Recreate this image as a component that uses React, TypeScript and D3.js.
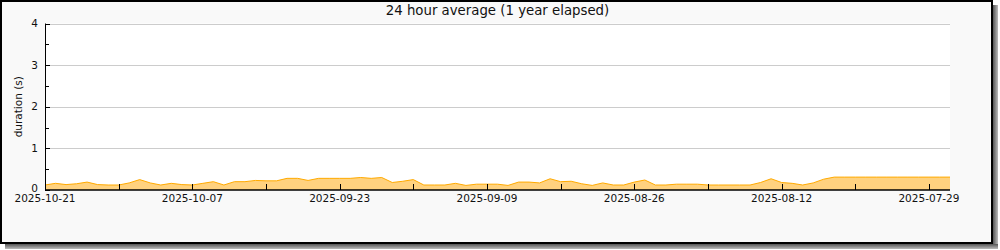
import React from "react";
import * as d3 from "d3";

const TITLE = "24 hour average (1 year elapsed)";
const Y_LABEL = "duration (s)";
const START_DATE = "2025-10-21";
const END_DATE = "2025-07-27";
// daily values, newest (2025-10-21) first, going back in time
const durations: number[] = [
  0.12, 0.16, 0.13, 0.15, 0.19, 0.13, 0.12, 0.12, 0.17, 0.25,
  0.17, 0.12, 0.16, 0.13, 0.12, 0.16, 0.2, 0.12, 0.2, 0.2,
  0.23, 0.22, 0.22, 0.28, 0.28, 0.23, 0.28, 0.28, 0.28, 0.28,
  0.3, 0.28, 0.3, 0.18, 0.21, 0.25, 0.12, 0.12, 0.12, 0.16,
  0.11, 0.14, 0.14, 0.14, 0.11, 0.19, 0.19, 0.17, 0.27, 0.2,
  0.21, 0.15, 0.11, 0.17, 0.12, 0.12, 0.19, 0.24, 0.12, 0.12,
  0.14, 0.14, 0.14, 0.12, 0.12, 0.12, 0.12, 0.12, 0.18, 0.27,
  0.18, 0.16, 0.12, 0.17, 0.26, 0.31, 0.31, 0.31, 0.31, 0.31,
  0.31, 0.31, 0.31, 0.31, 0.31, 0.31, 0.31,
];
const yTicks = [0, 1, 2, 3, 4];
const yMinorTicks = [0.5, 1.5, 2.5, 3.5];

const parse = d3.utcParse("%Y-%m-%d");
const fmt = d3.utcFormat("%Y-%m-%d");

export default function App() {
  const W = 1000, H = 250;
  const left = 45, right = 950, top = 23.5, bottom = 190;
  const start = parse(START_DATE)!;
  const end = parse(END_DATE)!;
  const x = d3.scaleUtc().domain([start, end]).range([left, right]);
  const y = d3.scaleLinear().domain([0, 4]).range([bottom, top]);

  const data = durations.map((v, i) => ({ date: d3.utcDay.offset(start, -i), v }));
  const area = d3
    .area<{ date: Date; v: number }>()
    .x((d) => x(d.date))
    .y0(y(0))
    .y1((d) => y(d.v));
  const line = d3
    .line<{ date: Date; v: number }>()
    .x((d) => x(d.date))
    .y((d) => y(d.v));

  const weekTicks: Date[] = [];
  for (let d = start; d >= end; d = d3.utcDay.offset(d, -7)) weekTicks.push(d);

  const font = "'DejaVu Sans', sans-serif";

  return (
    <svg
      width={W}
      height={H}
      style={{ position: "absolute", left: 0, top: 0, display: "block" }}
      fontFamily={font}
    >
      <defs>
        <linearGradient id="shadowR" x1="0" x2="1" y1="0" y2="0">
          <stop offset="0" stopColor="#555" />
          <stop offset="1" stopColor="#bbb" />
        </linearGradient>
        <linearGradient id="shadowB" x1="0" x2="0" y1="0" y2="1">
          <stop offset="0" stopColor="#555" />
          <stop offset="1" stopColor="#bbb" />
        </linearGradient>
      </defs>
      <rect x={0} y={0} width={W} height={H} fill="#ffffff" />
      <rect x={993} y={5} width={5} height={244} fill="url(#shadowR)" />
      <rect x={5} y={244} width={993} height={5} fill="url(#shadowB)" />
      <rect x={1} y={1} width={991} height={242} fill="#f9f9f9" stroke="#000" strokeWidth={2} />
      <rect x={left} y={top} width={right - left} height={bottom - top} fill="#ffffff" />

      {yTicks.filter((t) => t > 0).map((t) => (
        <line key={"g" + t} x1={left} x2={right} y1={Math.round(y(t)) + 0.5} y2={Math.round(y(t)) + 0.5} stroke="#cccccc" strokeWidth={1} />
      ))}

      <path d={area(data)!} fill="#ffd27f" stroke="none" />
      <path d={line(data)!} fill="none" stroke="#ffaa00" strokeWidth={1} />

      <line x1={left + 0.5} x2={left + 0.5} y1={top} y2={bottom} stroke="#000" strokeWidth={1} />
      <line x1={left} x2={right} y1={bottom} y2={bottom} stroke="#000" strokeWidth={1.5} />

      {yTicks.map((t) => (
        <g key={"yt" + t}>
          <line x1={left} x2={left + 5} y1={Math.round(y(t)) + 0.5} y2={Math.round(y(t)) + 0.5} stroke="#000" />
          <text x={38} y={t === 0 ? y(t) - 1.5 : y(t)} dy="0.35em" textAnchor="end" fontSize={10.5} fill="#111">
            {t}
          </text>
        </g>
      ))}
      {yMinorTicks.map((t) => (
        <line key={"ym" + t} x1={left} x2={left + 4} y1={Math.round(y(t)) + 0.5} y2={Math.round(y(t)) + 0.5} stroke="#000" />
      ))}

      {weekTicks.map((d, i) => (
        <g key={"xt" + i}>
          <line x1={Math.round(x(d)) + 0.5} x2={Math.round(x(d)) + 0.5} y1={bottom} y2={bottom - 6} stroke="#000" />
          {i % 2 === 0 && (
            <text x={x(d)} y={202} textAnchor="middle" fontSize={10.5} fill="#111">
              {fmt(d)}
            </text>
          )}
        </g>
      ))}

      <text
        transform={`translate(22, ${(top + bottom) / 2}) rotate(-90)`}
        textAnchor="middle"
        fontSize={10.5}
        fill="#111"
      >
        {Y_LABEL}
      </text>
      <text x={(left + right) / 2} y={15} textAnchor="middle" fontSize={13.3} fill="#111">
        {TITLE}
      </text>
    </svg>
  );
}
